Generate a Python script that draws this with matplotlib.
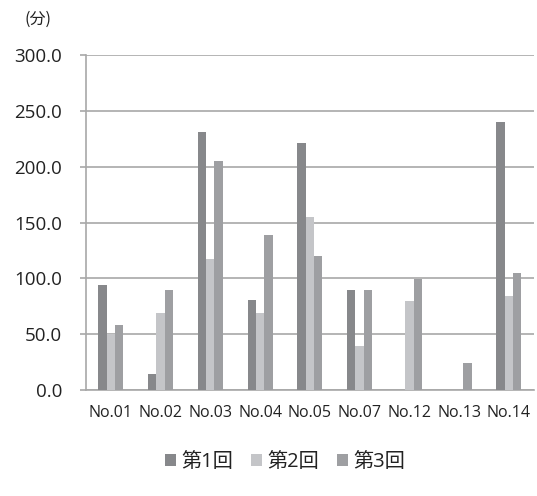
import matplotlib
matplotlib.use("Agg")
import matplotlib.pyplot as plt
import numpy as np

plt.rcParams['font.family'] = ['Open Sans', 'Noto Sans CJK JP', 'DejaVu Sans']

categories = ["No.01", "No.02", "No.03", "No.04", "No.05", "No.07", "No.12", "No.13", "No.14"]
series_names = ["第1回", "第2回", "第3回"]
round1 = [94, 14, 231, 81, 221, 89.5, 0, 0, 240]
round2 = [50, 69, 117, 69, 155, 39.5, 80, 0, 84.5]
round3 = [58, 89.5, 205, 139, 120, 89.5, 99.5, 24.5, 104.5]
yticks = [0, 50, 100, 150, 200, 250, 300]

colors = ["#87888b", "#c4c5c8", "#9e9fa2"]
grid_color = "#a8a8a8"
text_color = "#222222"

fig = plt.figure(figsize=(5.37, 4.96), dpi=100)
ax = fig.add_axes([0.160, 0.2137, 0.834, 0.6753])

x = np.arange(len(categories))
w = 1 / 6
for i, (vals, name, c) in enumerate(zip([round1, round2, round3], series_names, colors)):
    ax.bar(x + (i - 1) * w, vals, width=w, color=c, label=name, zorder=3)

ax.set_xlim(-0.5, len(categories) - 0.5)
ax.set_ylim(0, 300)
ax.set_yticks(yticks)
ax.set_yticklabels([f"{v:.1f}" for v in yticks], fontsize=13.5, color=text_color)
ax.set_xticks(x)
ax.set_xticklabels(categories, fontsize=11.5, color=text_color)
ax.yaxis.grid(True, color=grid_color, linewidth=1.2, zorder=0)

for s in ["top", "right"]:
    ax.spines[s].set_visible(False)
for s in ["left", "bottom"]:
    ax.spines[s].set_color(grid_color)
    ax.spines[s].set_linewidth(1.2)
ax.tick_params(axis="y", length=4.5, width=1.2, color=grid_color, pad=12.5)
ax.tick_params(axis="x", length=0, pad=11)

fig.text(0.045, 0.961, "(分)", fontsize=11.5, color=text_color, va="center",
         family=['Noto Sans CJK JP', 'DejaVu Sans'])

leg = fig.legend(loc="center", bbox_to_anchor=(0.531, 0.068), ncol=3, frameon=False,
                 fontsize=14.5, handlelength=0.55, handleheight=0.55, handletextpad=0.3,
                 columnspacing=0.85)
for t in leg.get_texts():
    t.set_color(text_color)

fig.savefig("out.png", dpi=100)
